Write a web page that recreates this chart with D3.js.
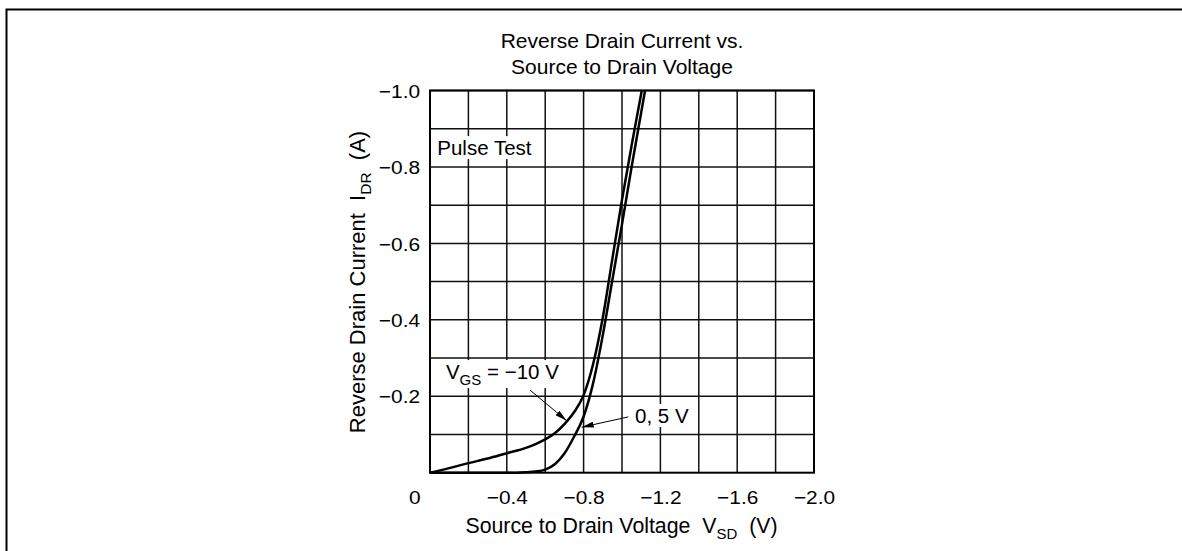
<!DOCTYPE html>
<html>
<head>
<meta charset="utf-8">
<script src="https://cdn.jsdelivr.net/npm/d3@7"></script>
<style>
  body { margin: 0; background: #fff; }
  svg text { font-family: "Liberation Sans", Arial, sans-serif; fill: #000; }
</style>
</head>
<body>
<div id="chart"></div>
<script>
// V_GS = -10 V curve (source to drain voltage V, reverse drain current A)
var vsdMinus10 = [0, -0.1, -0.2, -0.3, -0.4, -0.5, -0.55, -0.6, -0.65, -0.7, -0.75, -0.8, -0.85, -0.9, -0.95, -1.0, -1.05, -1.103];
var idrMinus10 = [0, -0.012, -0.025, -0.037, -0.051, -0.065, -0.075, -0.087, -0.103, -0.127, -0.158, -0.203, -0.285, -0.406, -0.56, -0.714, -0.856, -1.0];

// V_GS = 0, 5 V curve
var vsdZero5 = [0, -0.45, -0.5, -0.55, -0.6, -0.65, -0.7, -0.75, -0.8, -0.85, -0.9, -0.95, -1.0, -1.05, -1.12];
var idrZero5 = [0, 0, -0.001, -0.003, -0.008, -0.022, -0.05, -0.094, -0.147, -0.235, -0.36, -0.505, -0.65, -0.8, -1.0];

// grid and tick labels
var xGrid = [0, -0.2, -0.4, -0.6, -0.8, -1.0, -1.2, -1.4, -1.6, -1.8, -2.0];
var xLabelled = [0, -0.4, -0.8, -1.2, -1.6, -2.0];
var yGrid = [-0.1, -0.2, -0.3, -0.4, -0.5, -0.6, -0.7, -0.8, -0.9, -1.0];
var yLabelled = [-0.2, -0.4, -0.6, -0.8, -1.0];

var svgWidth = 1182;
var svgHeight = 551;
var margin = { top: 90.5, left: 430 };
var width = 384;
var height = 382.2;

var svg = d3.select("#chart")
  .append("svg")
  .attr("width", svgWidth)
  .attr("height", svgHeight);

// page frame (top and left edges only)
svg.append("path")
  .attr("d", "M6.5,551V9.5H1182")
  .attr("fill", "none")
  .attr("stroke", "#000")
  .attr("stroke-width", 2);

var chartGroup = svg.append("g")
  .attr("transform", `translate(${margin.left}, ${margin.top})`);

var xScale = d3.scaleLinear().domain([0, -2.0]).range([0, width]);
var yScale = d3.scaleLinear().domain([0, -1.0]).range([height, 0]);

var fmt = function(d) { return d === 0 ? "0" : d3.format(".1f")(d); };

// grid lines
chartGroup.append("g")
  .selectAll("line.vx")
  .data(xGrid)
  .enter()
  .append("line")
  .attr("x1", d => xScale(d)).attr("x2", d => xScale(d))
  .attr("y1", 0).attr("y2", height)
  .attr("stroke", "#111")
  .attr("stroke-width", 1.5);

chartGroup.append("g")
  .selectAll("line.hy")
  .data(yGrid)
  .enter()
  .append("line")
  .attr("x1", 0).attr("x2", width)
  .attr("y1", d => yScale(d)).attr("y2", d => yScale(d))
  .attr("stroke", "#111")
  .attr("stroke-width", 1.5);

// frame of plot
chartGroup.append("rect")
  .attr("width", width)
  .attr("height", height)
  .attr("fill", "none")
  .attr("stroke", "#000")
  .attr("stroke-width", 2);

// tick labels through axes
var bottomAxis = d3.axisBottom(xScale).tickValues(xLabelled).tickSize(0).tickFormat(fmt);
var leftAxis = d3.axisLeft(yScale).tickValues(yLabelled).tickSize(0).tickFormat(fmt);

var xAxisG = chartGroup.append("g")
  .attr("transform", `translate(0, ${height})`)
  .call(bottomAxis);
xAxisG.select(".domain").remove();
xAxisG.selectAll("text")
  .attr("y", 31)
  .attr("dy", 0)
  .style("font-size", "18.5px")
  .attr("transform", "scale(1.13,1)")
  .filter(d => d === 0)
  .attr("text-anchor", "end")
  .attr("x", -8.8);

var yAxisG = chartGroup.append("g").call(leftAxis);
yAxisG.select(".domain").remove();
yAxisG.selectAll("text")
  .attr("x", -8.8)
  .attr("dy", "0.36em")
  .style("font-size", "18.5px")
  .attr("transform", "scale(1.13,1)");

// curves
var line = d3.line()
  .x(d => xScale(d[0]))
  .y(d => yScale(d[1]))
  .curve(d3.curveMonotoneX);

var curves = [
  d3.zip(vsdMinus10, idrMinus10),
  d3.zip(vsdZero5, idrZero5)
];

chartGroup.selectAll("path.curve")
  .data(curves)
  .enter()
  .append("path")
  .attr("class", "curve")
  .attr("d", line)
  .attr("fill", "none")
  .attr("stroke", "#000")
  .attr("stroke-width", 2.5);

// annotations
svg.append("defs").append("marker")
  .attr("id", "arrow")
  .attr("viewBox", "0 0 12 6")
  .attr("refX", 12).attr("refY", 3)
  .attr("markerWidth", 12).attr("markerHeight", 6)
  .attr("markerUnits", "userSpaceOnUse")
  .attr("orient", "auto")
  .append("path")
  .attr("d", "M0,0L12,3L0,6Z")
  .attr("fill", "#000");

var arrows = [
  { from: [-0.521, -0.216], to: [-0.712, -0.136] },
  { from: [-1.033, -0.146], to: [-0.79, -0.119] }
];

chartGroup.selectAll("line.arrow")
  .data(arrows)
  .enter()
  .append("line")
  .attr("x1", d => xScale(d.from[0])).attr("y1", d => yScale(d.from[1]))
  .attr("x2", d => xScale(d.to[0])).attr("y2", d => yScale(d.to[1]))
  .attr("stroke", "#000")
  .attr("stroke-width", 1)
  .attr("marker-end", "url(#arrow)");

// white backed labels
function backing(t) {
  var bb = t.node().getBBox();
  chartGroup.insert("rect", function() { return t.node(); })
    .attr("x", bb.x - 3).attr("y", bb.y)
    .attr("width", bb.width + 6).attr("height", bb.height)
    .attr("fill", "#fff");
}

var pulse = chartGroup.append("text")
  .attr("x", xScale(-0.038))
  .attr("y", yScale(-0.831))
  .style("font-size", "20.5px")
  .text("Pulse Test");
backing(pulse);

var vgsLabel = chartGroup.append("text")
  .attr("x", xScale(-0.083))
  .attr("y", yScale(-0.245))
  .style("font-size", "20.5px");
vgsLabel.append("tspan").text("V");
vgsLabel.append("tspan").text("GS").attr("dy", 6).style("font-size", "15px");
vgsLabel.append("tspan").text(" = \u221210 V").attr("dy", -6);
backing(vgsLabel);

var zeroLabel = chartGroup.append("text")
  .attr("x", xScale(-1.068))
  .attr("y", yScale(-0.13))
  .style("font-size", "20.5px")
  .text("0, 5 V");
backing(zeroLabel);

// title
var title = svg.append("text")
  .attr("text-anchor", "middle")
  .style("font-size", "21px");
title.append("tspan").attr("x", 622).attr("y", 48).text("Reverse Drain Current vs.");
title.append("tspan").attr("x", 622).attr("y", 74).text("Source to Drain Voltage");

// axis titles
var xTitle = svg.append("text")
  .attr("x", 621.5)
  .attr("y", 533)
  .attr("text-anchor", "middle")
  .style("font-size", "21.3px");
xTitle.append("tspan").text("Source to Drain Voltage\u00a0\u00a0V");
xTitle.append("tspan").text("SD").attr("dy", 6).style("font-size", "15px");
xTitle.append("tspan").text("\u00a0\u00a0(V)").attr("dy", -6);

var yTitle = svg.append("text")
  .attr("transform", "translate(365, 282) rotate(-90)")
  .attr("text-anchor", "middle")
  .style("font-size", "22px");
yTitle.append("tspan").text("Reverse Drain Current\u00a0\u00a0I");
yTitle.append("tspan").text("DR").attr("dy", 6).style("font-size", "15.5px");
yTitle.append("tspan").text("\u00a0\u00a0(A)").attr("dy", -6);
</script>
</body>
</html>
